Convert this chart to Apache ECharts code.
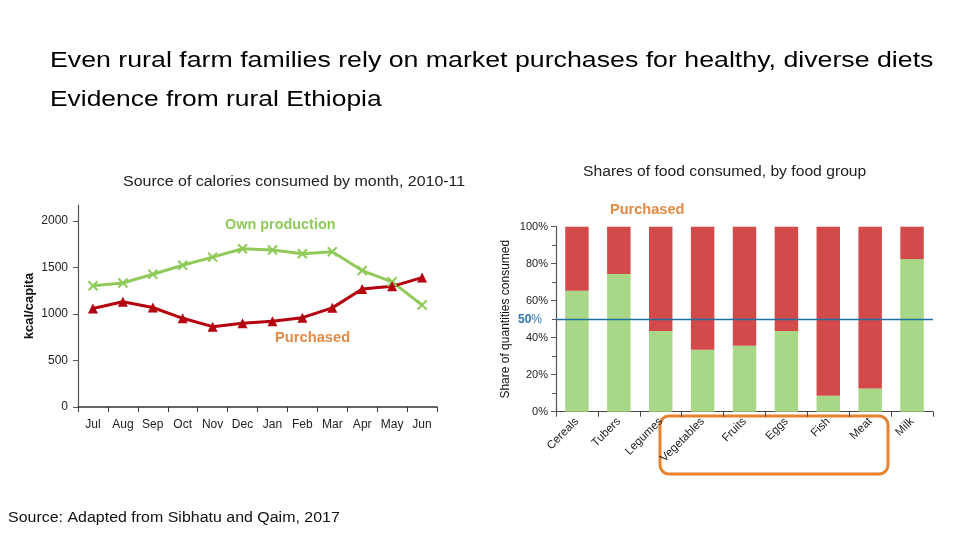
<!DOCTYPE html>
<html>
<head>
<meta charset="utf-8">
<script src="https://cdn.jsdelivr.net/npm/echarts@6/dist/echarts.min.js"></script>
<style>
html,body{margin:0;padding:0;background:#fff;}
#c{width:960px;height:540px;}
</style>
</head>
<body>
<div id="c"></div>
<script>
// ---- Data ----
var months = ['Jul','Aug','Sep','Oct','Nov','Dec','Jan','Feb','Mar','Apr','May','Jun'];
var ownProduction = [1303,1332,1426,1523,1610,1700,1686,1646,1668,1466,1345,1095];
var purchasedKcal = [1058,1130,1069,953,863,899,921,960,1065,1267,1296,1390];
var kcalTicks = [0,500,1000,1500,2000];

var foodGroups = ['Cereals','Tubers','Legumes','Vegetables','Fruits','Eggs','Fish','Meat','Milk'];
var ownShare = [0.654,0.744,0.436,0.335,0.357,0.436,0.086,0.126,0.825];
var purchasedShare = ownShare.map(function(v){ return +(1 - v).toFixed(3); });
var halfLine = 0.5;

var narrow = "'Liberation Sans Narrow', 'Liberation Sans', Arial, sans-serif";
var sans = "'Liberation Sans', Arial, sans-serif";
var green = '#8fca5a', darkRed = '#b5000f', orange = '#e38a45';

var chart = echarts.init(document.getElementById('c'));
chart.setOption({
  backgroundColor: '#ffffff',
  animation: false,
  grid: [
    {left: 78, right: 523, top: 205, bottom: 133},
    {left: 556, right: 27, top: 226.7, bottom: 128.3}
  ],
  xAxis: [
    {
      gridIndex: 0, type: 'category', data: months, boundaryGap: true,
      axisLine: {lineStyle: {color: '#333', width: 1.5}},
      axisTick: {show: true, alignWithLabel: false, length: 5, lineStyle: {color: '#333'}},
      axisLabel: {color: '#222', fontFamily: narrow, fontSize: 12, margin: 12, interval: 0}
    },
    {
      gridIndex: 1, type: 'category', data: foodGroups, boundaryGap: true,
      axisLine: {lineStyle: {color: '#444', width: 1.2}},
      axisTick: {show: true, length: 5, lineStyle: {color: '#444'}},
      axisLabel: {color: '#222', fontFamily: narrow, fontSize: 11.5, rotate: 45, margin: 8, interval: 0}
    }
  ],
  yAxis: [
    {
      gridIndex: 0, type: 'value', min: 0, max: 2170,
      name: 'kcal/capita', nameLocation: 'middle', nameGap: 42, nameRotate: 90,
      nameMoveOverlap: false,
      nameTextStyle: {color: '#111', fontFamily: sans, fontWeight: 'bold', fontSize: 13},
      splitLine: {show: false},
      axisLine: {show: true, lineStyle: {color: '#555', width: 1.2}},
      axisTick: {show: true, length: 5, customValues: kcalTicks, lineStyle: {color: '#555'}},
      axisLabel: {color: '#222', fontFamily: narrow, fontSize: 12, margin: 10, customValues: kcalTicks,
        formatter: function(v){ return String(v); }}
    },
    {
      gridIndex: 1, type: 'value', min: 0, max: 1, interval: 0.2,
      name: 'Share of quantities consumed', nameLocation: 'middle', nameGap: 44, nameRotate: 90,
      nameMoveOverlap: false,
      nameTextStyle: {color: '#111', fontFamily: narrow, fontSize: 12},
      splitLine: {show: false},
      minorTick: {show: true, splitNumber: 2, length: 4, lineStyle: {color: '#555'}},
      axisLine: {show: true, lineStyle: {color: '#555', width: 1.2}},
      axisTick: {show: true, length: 5, lineStyle: {color: '#555'}},
      axisLabel: {color: '#222', fontFamily: narrow, fontSize: 11, margin: 8,
        formatter: function(v){ return Math.round(v*100) + '%'; }}
    }
  ],
  series: [
    {
      name: 'Own production', type: 'line', xAxisIndex: 0, yAxisIndex: 0,
      data: ownProduction,
      lineStyle: {color: green, width: 3},
      symbol: 'path://M0,0L10,10M10,0L0,10', symbolSize: 9, showSymbol: true,
      itemStyle: {color: green, borderColor: green, borderWidth: 2}
    },
    {
      name: 'Purchased', type: 'line', xAxisIndex: 0, yAxisIndex: 0,
      data: purchasedKcal,
      lineStyle: {color: darkRed, width: 3},
      symbol: 'triangle', symbolSize: 10,
      itemStyle: {color: darkRed}
    },
    {
      name: 'Own share', type: 'bar', xAxisIndex: 1, yAxisIndex: 1, stack: 's',
      data: ownShare, barWidth: '56%',
      itemStyle: {color: '#a8d887'},
      markLine: {
        silent: true, symbol: 'none',
        lineStyle: {color: '#1f6fa3', width: 1.3, type: 'solid', opacity: 1},
        label: {
          position: 'start', distance: 14,
          formatter: '{b|50}{p|%}',
          rich: {
            b: {color: '#2e75b6', fontWeight: 'bold', fontSize: 12, fontFamily: narrow},
            p: {color: '#2e75b6', fontSize: 12, fontFamily: narrow}
          }
        },
        emphasis: {disabled: true},
        data: [{yAxis: halfLine}]
      }
    },
    {
      name: 'Purchased share', type: 'bar', xAxisIndex: 1, yAxisIndex: 1, stack: 's',
      data: purchasedShare, barWidth: '56%',
      itemStyle: {color: '#d24a4a'}
    }
  ],
  graphic: [
    {type: 'text', left: 50, top: 50, scaleX: 1.215,
      style: {text: 'Even rural farm families rely on market purchases for healthy, diverse diets', font: '22px ' + sans, fill: '#000'}},
    {type: 'text', left: 50, top: 89, scaleX: 1.2,
      style: {text: 'Evidence from rural Ethiopia', font: '22px ' + sans, fill: '#000'}},
    {type: 'text', left: 123, top: 175, scaleX: 1.14,
      style: {text: 'Source of calories consumed by month, 2010-11', font: '14px ' + sans, fill: '#222'}},
    {type: 'text', left: 583, top: 165, scaleX: 1.12,
      style: {text: 'Shares of food consumed, by food group', font: '14px ' + sans, fill: '#222'}},
    {type: 'text', left: 8, top: 511, scaleX: 1.14,
      style: {text: 'Source: Adapted from Sibhatu and Qaim, 2017', font: '14px ' + sans, fill: '#111'}},
    {type: 'text', left: 225, top: 218, scaleX: 1.03,
      style: {text: 'Own production', font: 'bold 14px ' + sans, fill: green}},
    {type: 'text', left: 275, top: 331, scaleX: 1.05,
      style: {text: 'Purchased', font: 'bold 14px ' + sans, fill: orange}},
    {type: 'text', left: 610, top: 203, scaleX: 1.04,
      style: {text: 'Purchased', font: 'bold 14px ' + sans, fill: orange}},
    {type: 'rect', shape: {x: 660, y: 416, width: 228, height: 58, r: 9},
      style: {fill: 'none', stroke: '#e8822e', lineWidth: 3}}
  ]
});
</script>
</body>
</html>
